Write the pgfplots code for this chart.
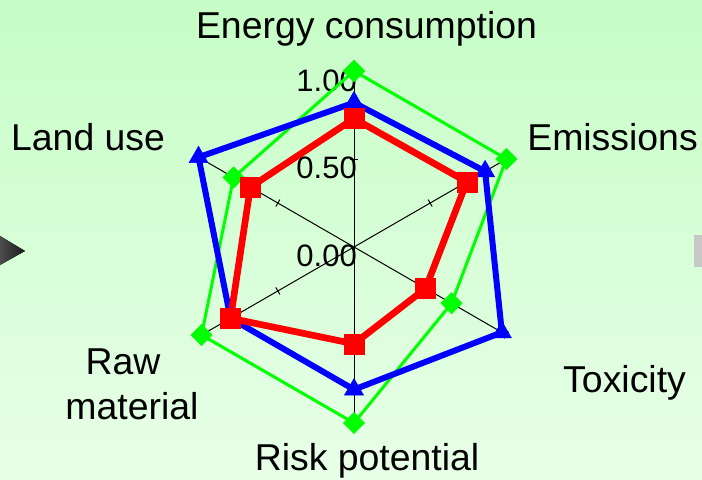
\documentclass[border=0pt]{standalone}
\usepackage{pgfplots}
\pgfplotsset{compat=1.18}
\usepackage{fontspec}
\setmainfont{Liberation Sans}
\definecolor{bgtop}{RGB}{198,253,198}
\definecolor{bgbot}{RGB}{232,255,232}
\definecolor{sgreen}{RGB}{0,255,0}
\definecolor{sblue}{RGB}{0,0,255}
\definecolor{sred}{RGB}{255,0,0}
\begin{document}
\begin{tikzpicture}
\begin{axis}[
  width=702pt, height=479pt, scale only axis,
  xmin=-2.01136, xmax=1.97727, ymin=-1.31818, ymax=1.40341,
  hide axis, clip=false,
]
\coordinate (bl) at (axis cs:-2.01136,-1.31818);
\coordinate (tr) at (axis cs:1.97727,1.40341);
\fill[top color=bgtop, bottom color=bgbot] (axis cs:-2.01136,-1.31818) rectangle (axis cs:1.97727,1.40341);
% decorations at the edges
\fill[left color=black!70, right color=black!90] (axis cs:-2.01136,0.0625) -- (axis cs:-1.8693,-0.0227) -- (axis cs:-2.01136,-0.1023) -- cycle;
\fill[black!22] (axis cs:1.9318,0.0682) rectangle (axis cs:1.97727,-0.1136);
% spokes
\addplot[black, line width=1pt, data cs=polar] coordinates {(0,0) (90,1)};
\addplot[black, line width=1pt, data cs=polar] coordinates {(0,0) (30,1)};
\addplot[black, line width=1pt, data cs=polar] coordinates {(0,0) (-30,1)};
\addplot[black, line width=1pt, data cs=polar] coordinates {(0,0) (-90,1)};
\addplot[black, line width=1pt, data cs=polar] coordinates {(0,0) (210,1)};
\addplot[black, line width=1pt, data cs=polar] coordinates {(0,0) (150,1)};
% ticks at 0.5 and 1.0
\addplot[black, line width=1pt, data cs=polar] coordinates {(87.4,0.5) (92.6,0.5)};
\addplot[black, line width=1pt, data cs=polar] coordinates {(27.4,0.5) (32.6,0.5)};
\addplot[black, line width=1pt, data cs=polar] coordinates {(-27.4,0.5) (-32.6,0.5)};
\addplot[black, line width=1pt, data cs=polar] coordinates {(-87.4,0.5) (-92.6,0.5)};
\addplot[black, line width=1pt, data cs=polar] coordinates {(207.4,0.5) (212.6,0.5)};
\addplot[black, line width=1pt, data cs=polar] coordinates {(147.4,0.5) (152.6,0.5)};
\addplot[black, line width=1pt, data cs=polar] coordinates {(88.7,1) (91.3,1)};
\addplot[black, line width=1pt, data cs=polar] coordinates {(28.7,1) (31.3,1)};
\addplot[black, line width=1pt, data cs=polar] coordinates {(-28.7,1) (-31.3,1)};
\addplot[black, line width=1pt, data cs=polar] coordinates {(-88.7,1) (-91.3,1)};
\addplot[black, line width=1pt, data cs=polar] coordinates {(208.7,1) (211.3,1)};
\addplot[black, line width=1pt, data cs=polar] coordinates {(148.7,1) (151.3,1)};
% scale labels
\node[anchor=base east, font=\fontsize{31}{37}\selectfont, inner sep=0pt] at (axis cs:0.017,0.8807) {1.00};
\node[anchor=base east, font=\fontsize{31}{37}\selectfont, inner sep=0pt] at (axis cs:0.017,0.3864) {0.50};
\node[anchor=base east, font=\fontsize{31}{37}\selectfont, inner sep=0pt] at (axis cs:0.017,-0.1136) {0.00};
% category labels
\node[anchor=base, font=\fontsize{37.4}{45}\selectfont, inner sep=0pt] at (axis cs:0.071,1.1818) {Energy consumption};
\node[anchor=base, font=\fontsize{37.4}{45}\selectfont, inner sep=0pt] at (axis cs:1.469,0.5455) {Emissions};
\node[anchor=base, font=\fontsize{37.4}{45}\selectfont, inner sep=0pt] at (axis cs:1.537,-0.8239) {Toxicity};
\node[anchor=base, font=\fontsize{37.4}{45}\selectfont, inner sep=0pt] at (axis cs:0.0739,-1.2727) {Risk potential};
\node[anchor=base, font=\fontsize{37.4}{45}\selectfont, inner sep=0pt] at (axis cs:-1.3125,-0.7216) {Raw};
\node[anchor=base, font=\fontsize{37.4}{45}\selectfont, inner sep=0pt] at (axis cs:-1.2614,-0.9773) {material};
\node[anchor=base, font=\fontsize{37.4}{45}\selectfont, inner sep=0pt] at (axis cs:-1.511,0.5455) {Land use};
% series (angle, value): Energy 90, Emissions 30, Toxicity -30, Risk -90, Raw material 210, Land use 150
\addplot[sgreen, line width=3pt, mark=square*, mark size=7.5pt,
  mark options={rotate=45, line width=0.5pt, fill=sgreen}, data cs=polar]
  coordinates {(90,1.00) (30,1.00) (-30,0.64) (-90,1.00) (210,1.00) (150,0.79) (90,1.00)};
\addplot[sblue, line width=6pt, mark=triangle*, mark size=11pt,
  mark options={line width=0.5pt, fill=sblue}, data cs=polar]
  coordinates {(90,0.82) (30,0.86) (-30,0.97) (-90,0.81) (210,0.81) (150,1.02) (90,0.82)};
\addplot[sred, line width=6.7pt, mark=square*, mark size=10pt,
  mark options={line width=0.5pt, fill=sred}, data cs=polar]
  coordinates {(90,0.73) (30,0.74) (-30,0.47) (-90,0.55) (210,0.81) (150,0.68) (90,0.73)};
\end{axis}
\pgfresetboundingbox
\path (bl) rectangle (tr);
\end{tikzpicture}
\end{document}
